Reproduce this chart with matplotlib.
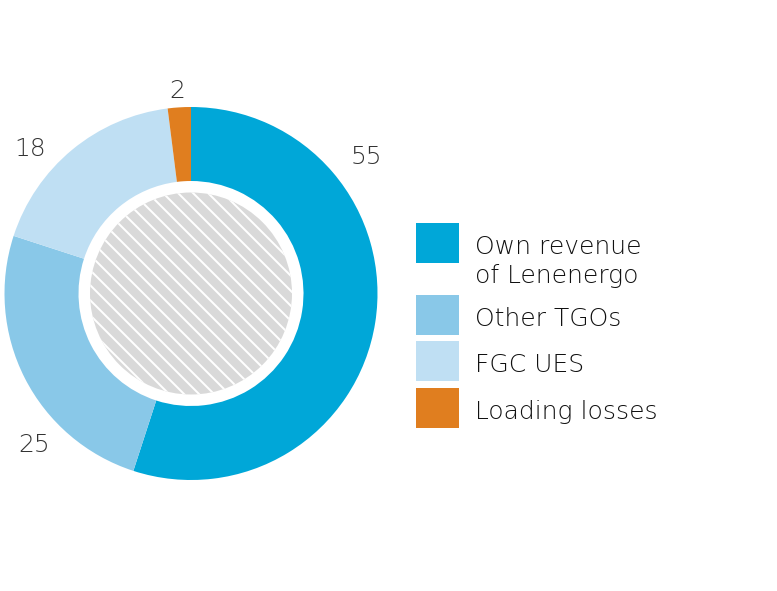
import matplotlib
matplotlib.use("Agg")
import matplotlib.pyplot as plt
import numpy as np
from matplotlib.patches import Circle, Rectangle

W, H = 777, 591
DPI = 90
PX = 72 / DPI  # points per pixel

plt.rcParams['font.family'] = ['DejaVu Sans']
plt.rcParams['hatch.linewidth'] = 2.0 * PX

categories = ["Own revenue\nof Lenenergo", "Other TGOs", "FGC UES", "Loading losses"]
values = [55, 25, 18, 2]
value_labels = ["55", "25", "18", "2"]
colors = ["#00A7D8", "#89C8E8", "#BFDFF3", "#E07E1F"]
label_angles = [38, 224, 138, 94]  # degrees, where each value label sits
label_radius = [1.19, 1.17, 1.16, 1.09]

fig = plt.figure(figsize=(W / DPI, H / DPI), dpi=DPI)
ax = fig.add_axes([0, 0, 1, 1])

cx, cy = 191, H - 293.5
R = 186.5
r_in = 112.5
r_hatch = 101

ax.pie(values, colors=colors, startangle=90, counterclock=False,
       center=(cx, cy), radius=R,
       wedgeprops=dict(width=R - r_in, linewidth=0, antialiased=True))

ax.add_patch(Circle((cx, cy), r_hatch, facecolor="#D9D9D9", edgecolor="white",
                    linewidth=0, hatch="\\\\"))

for lab, ang, rf in zip(value_labels, label_angles, label_radius):
    a = np.deg2rad(ang)
    ax.text(cx + R * rf * np.cos(a), cy + R * rf * np.sin(a), lab,
            fontsize=25 * PX, fontweight=200, color="#333333",
            ha="center", va="center")

# legend
sw, sh = 43, 40
x0 = 416
tops = [223, 295, 341, 388]
for cat, col, top in zip(categories, colors, tops):
    ax.add_patch(Rectangle((x0, H - top - sh), sw, sh, facecolor=col, linewidth=0))
    for i, line in enumerate(cat.split("\n")):
        ax.text(475, H - (top + 31 + 29 * i), line, fontsize=25 * PX,
                fontweight=200, color="#111111", ha="left", va="baseline")

ax.set_xlim(0, W)
ax.set_ylim(0, H)
ax.set_aspect("equal", adjustable="box")
ax.axis("off")

fig.savefig("out.png", dpi=DPI)
